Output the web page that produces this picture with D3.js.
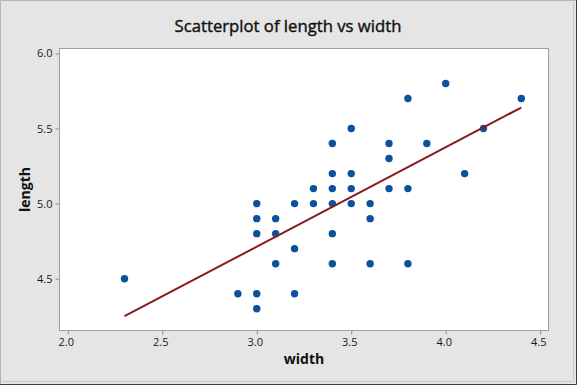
<!DOCTYPE html>
<html>
<head>
<meta charset="utf-8">
<script src="https://cdn.jsdelivr.net/npm/d3@7"></script>
<style>
  body { margin: 0; background: #fff; }
  svg { display: block; font-family: "Open Sans", "Noto Sans", sans-serif; }
</style>
</head>
<body>
<div id="chart"></div>
<script>
// points (overlapping duplicates drawn once)
const widthVals = [2.3, 2.9, 3.0, 3.0, 3.0, 3.0, 3.0, 3.1, 3.1, 3.1, 3.2, 3.2, 3.2,
  3.3, 3.3, 3.4, 3.4, 3.4, 3.4, 3.4, 3.4, 3.5, 3.5, 3.5, 3.5, 3.6, 3.6, 3.6,
  3.7, 3.7, 3.7, 3.8, 3.8, 3.8, 3.9, 4.0, 4.1, 4.2, 4.4];
const lengthVals = [4.5, 4.4, 4.3, 4.4, 4.8, 4.9, 5.0, 4.6, 4.8, 4.9, 4.4, 4.7, 5.0,
  5.0, 5.1, 4.6, 4.8, 5.0, 5.1, 5.2, 5.4, 5.0, 5.1, 5.2, 5.5, 4.6, 4.9, 5.0,
  5.1, 5.3, 5.4, 4.6, 5.1, 5.7, 5.4, 5.8, 5.2, 5.5, 5.7];
// fitted line end points
const fitWidth = [2.3, 4.4];
const fitLength = [4.25, 5.64];
const xTicks = [2.0, 2.5, 3.0, 3.5, 4.0, 4.5];
const yTicks = [4.5, 5.0, 5.5, 6.0];

const W = 577, H = 385;
const plot = { left: 59.5, right: 548.5, top: 48.5, bottom: 330.5 };

const svg = d3.select('#chart')
  .append('svg')
    .attr('width', W)
    .attr('height', H);

// frame
svg.append('rect')
  .attr('x', 0).attr('y', 0)
  .attr('width', W).attr('height', H)
  .attr('fill', '#e5e5e5');
svg.append('path')
  .attr('d', `M0.5,${H - 1}V0.5H${W - 1}`)
  .attr('fill', 'none').attr('stroke', '#b4b4b4');
svg.append('path')
  .attr('d', `M${W - 0.5},0V${H - 0.5}H0`)
  .attr('fill', 'none').attr('stroke', '#3c3c3c');
svg.append('path')
  .attr('d', `M${W - 3.5},2V${H - 3.5}H2`)
  .attr('fill', 'none').attr('stroke', '#c8c8c8');

const x = d3.scaleLinear()
  .domain([1.956, 4.544])
  .range([plot.left, plot.right]);
const y = d3.scaleLinear()
  .domain([4.155, 6.033])
  .range([plot.bottom, plot.top]);

svg.append('rect')
  .attr('x', plot.left).attr('y', plot.top)
  .attr('width', plot.right - plot.left)
  .attr('height', plot.bottom - plot.top)
  .attr('fill', '#fff')
  .attr('stroke', '#a0a0a0');

const xAxis = svg.append('g')
  .attr('transform', `translate(0,${plot.bottom})`)
  .call(d3.axisBottom(x).tickValues(xTicks).tickFormat(d3.format('.1f')).tickSize(4).tickPadding(4));
const yAxis = svg.append('g')
  .attr('transform', `translate(${plot.left},0)`)
  .call(d3.axisLeft(y).tickValues(yTicks).tickFormat(d3.format('.1f')).tickSize(4).tickPadding(3));

[xAxis, yAxis].forEach(g => {
  g.select('.domain').remove();
  g.selectAll('line').attr('stroke', '#8c8c8c');
  g.selectAll('text')
    .attr('fill', '#1a1a1a')
    .style('font-size', '11px')
    .style('font-family', '"Open Sans", sans-serif');
});
xAxis.selectAll('text').attr('dx', -2);

// points
const pts = widthVals.map((w, i) => ({ w, l: lengthVals[i] }));
svg.append('g')
  .selectAll('circle')
  .data(pts)
  .enter()
    .append('circle')
      .attr('cx', d => x(d.w))
      .attr('cy', d => y(d.l))
      .attr('r', 3.7)
      .attr('fill', '#0d509e');

// fit line
const line = d3.line()
  .x(d => x(d[0]))
  .y(d => y(d[1]));
svg.append('path')
  .datum(fitWidth.map((w, i) => [w, fitLength[i]]))
  .attr('d', line)
  .attr('fill', 'none')
  .attr('stroke', '#8b1a1f')
  .attr('stroke-width', 2);

// titles
svg.append('text')
  .attr('x', 288).attr('y', 32)
  .attr('text-anchor', 'middle')
  .style('font-size', '16.7px')
  .attr('fill', '#111')
  .attr('stroke', '#111')
  .attr('stroke-width', 0.4)
  .text('Scatterplot of length vs width');
svg.append('text')
  .attr('x', (plot.left + plot.right) / 2).attr('y', 364)
  .attr('text-anchor', 'middle')
  .style('font-size', '14px')
  .style('font-weight', 'bold')
  .attr('fill', '#111')
  .text('width');
svg.append('text')
  .attr('transform', `translate(30,${(plot.top + plot.bottom) / 2}) rotate(-90)`)
  .attr('text-anchor', 'middle')
  .style('font-size', '14px')
  .style('font-weight', 'bold')
  .attr('fill', '#111')
  .text('length');
</script>
</body>
</html>
